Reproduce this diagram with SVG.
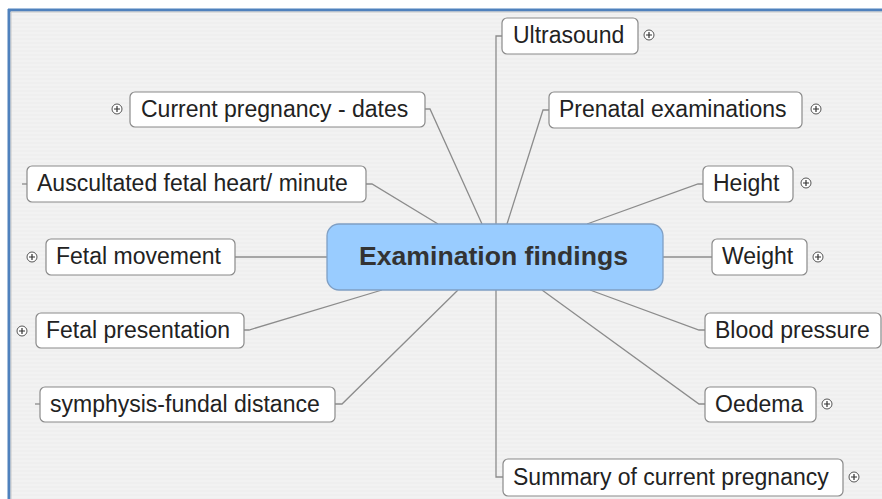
<svg xmlns="http://www.w3.org/2000/svg" width="882" height="499" viewBox="0 0 882 499">
<defs>
<pattern id="stripes" width="8" height="4" patternUnits="userSpaceOnUse">
<rect width="8" height="4" fill="#efefef"/>
<rect width="8" height="2" fill="#f2f2f2"/>
</pattern>
</defs>
<style>
.node rect{fill:#ffffff;stroke:#8a8a8a;stroke-width:1.2}
.node text{font-family:"Liberation Sans",Arial,sans-serif;font-size:23px;fill:#222222}
.plus circle{fill:#ffffff;stroke:#555555;stroke-width:1}
.plus path{stroke:#333333;stroke-width:1.2;fill:none}
#connectors polyline{fill:none;stroke:#8c8c8c;stroke-width:1.3}
.tick{stroke:#8c8c8c;stroke-width:1.3}
</style>
<rect x="0" y="0" width="882" height="499" fill="#ffffff"/>
<rect x="10" y="11" width="872" height="488" fill="url(#stripes)"/>
<line x1="8" y1="10" x2="882" y2="10" stroke="#4f81bd" stroke-width="3"/>
<line x1="9" y1="9" x2="9" y2="499" stroke="#4f81bd" stroke-width="3"/>
<line x1="11" y1="12" x2="882" y2="12" stroke="#c8c8c8" stroke-width="1"/>
<line x1="11" y1="12" x2="11" y2="499" stroke="#c8c8c8" stroke-width="1"/>

<g id="connectors">
<polyline points="425,109 430,109 482,224"/>
<polyline points="366,184 372,184 438,224"/>
<polyline points="235,257 327,257"/>
<polyline points="244,330 249,330 382,290"/>
<polyline points="335,404 342,404 458,290"/>
<polyline points="502,36 496,36 496,224"/>
<polyline points="549,110 543,110 507,224"/>
<polyline points="703,184 698,184 587,224"/>
<polyline points="663,257 712,257"/>
<polyline points="705,330 699,330 590,290"/>
<polyline points="705,404 699,404 542,290"/>
<polyline points="496,290 496,477 503,477"/>
</g>

<g id="center">
<rect x="327" y="224" width="336" height="66" rx="12" fill="#99ccff" stroke="#7f9fc4" stroke-width="1.3"/>
<text x="493.5" y="265" font-family="Liberation Sans,Arial,sans-serif" font-size="26.6" font-weight="bold" fill="#333333" text-anchor="middle">Examination findings</text>
</g>

<g id="n-current" class="node">
<rect x="130" y="92" width="295" height="35" rx="5"/>
<text x="141" y="117">Current pregnancy - dates</text>
<g class="plus"><circle cx="117" cy="109" r="5"/><path d="M114,109H120M117,106V112"/></g>
</g>
<g id="n-ausc" class="node">
<rect x="27" y="166" width="339" height="36" rx="5"/>
<text x="37" y="191">Auscultated fetal heart/ minute</text>
<line class="tick" x1="22" y1="184" x2="27" y2="184"/>
</g>
<g id="n-movement" class="node">
<rect x="46" y="239" width="189" height="36" rx="5"/>
<text x="56" y="264">Fetal movement</text>
<g class="plus"><circle cx="32" cy="257" r="5"/><path d="M29,257H35M32,254V260"/></g>
</g>
<g id="n-presentation" class="node">
<rect x="36" y="313" width="208" height="35" rx="5"/>
<text x="46" y="338">Fetal presentation</text>
<g class="plus"><circle cx="22" cy="331" r="5"/><path d="M19,331H25M22,328V334"/></g>
</g>
<g id="n-symphysis" class="node">
<rect x="40" y="387" width="295" height="35" rx="5"/>
<text x="50" y="412">symphysis-fundal distance</text>
<line class="tick" x1="35" y1="404" x2="40" y2="404"/>
</g>
<g id="n-ultrasound" class="node">
<rect x="502" y="18" width="136" height="36" rx="5"/>
<text x="513" y="43">Ultrasound</text>
<g class="plus"><circle cx="649" cy="35" r="5"/><path d="M646,35H652M649,32V38"/></g>
</g>
<g id="n-prenatal" class="node">
<rect x="549" y="92" width="253" height="36" rx="5"/>
<text x="559" y="117">Prenatal examinations</text>
<g class="plus"><circle cx="816" cy="109" r="5"/><path d="M813,109H819M816,106V112"/></g>
</g>
<g id="n-height" class="node">
<rect x="703" y="166" width="90" height="36" rx="5"/>
<text x="713" y="191">Height</text>
<g class="plus"><circle cx="806" cy="183" r="5"/><path d="M803,183H809M806,180V186"/></g>
</g>
<g id="n-weight" class="node">
<rect x="712" y="239" width="95" height="36" rx="5"/>
<text x="722" y="264">Weight</text>
<g class="plus"><circle cx="818" cy="257" r="5"/><path d="M815,257H821M818,254V260"/></g>
</g>
<g id="n-bp" class="node">
<rect x="705" y="313" width="176" height="35" rx="5"/>
<text x="715" y="338">Blood pressure</text>
</g>
<g id="n-oedema" class="node">
<rect x="705" y="387" width="111" height="35" rx="5"/>
<text x="715" y="412">Oedema</text>
<g class="plus"><circle cx="827" cy="404" r="5"/><path d="M824,404H830M827,401V407"/></g>
</g>
<g id="n-summary" class="node">
<rect x="503" y="459" width="340" height="37" rx="5"/>
<text x="513" y="485">Summary of current pregnancy</text>
<g class="plus"><circle cx="854" cy="477" r="5"/><path d="M851,477H857M854,474V480"/></g>
</g>
</svg>
